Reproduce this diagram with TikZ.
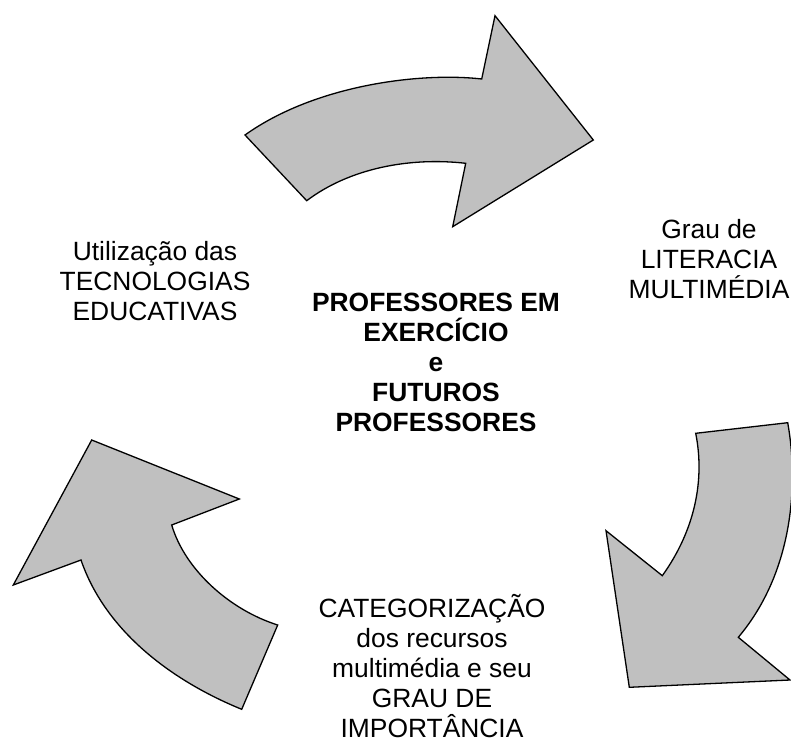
\documentclass[tikz,border=0pt]{standalone}
\usepackage{fontspec}
\setmainfont{Liberation Sans}
\definecolor{arrowgray}{HTML}{C0C0C0}
\begin{document}
\begin{tikzpicture}[x=1pt,y=-1pt,
  arrowshape/.style={fill=arrowgray, draw=black, line width=1.3pt, line join=miter},
  lbl/.style={align=center, inner sep=0pt, anchor=base, font=\fontsize{26.4}{30}\selectfont},
  lblbold/.style={lbl, font=\bfseries\fontsize{26.4}{30}\selectfont}]
\useasboundingbox (0,0) rectangle (791,743);
% top arrow
\draw[arrowshape] (245,135) .. controls (315,85) and (420,72) .. (481.7,79)
  -- (495,15.7) -- (593.3,140) -- (452.7,226.7) -- (465.7,163.3)
  .. controls (410,157) and (350,168) .. (306.7,200.7) -- cycle;
% right arrow
\draw[arrowshape] (695.7,433.3) -- (787.7,422.7)
  .. controls (798,480) and (795,570) .. (738.3,637.3)
  -- (790,680) -- (629.3,687.3) -- (606,530.7) -- (662.3,575.7)
  .. controls (695,530) and (705,480) .. (695.7,433.3) -- cycle;
% left arrow
\draw[arrowshape] (277.7,625) -- (241.7,709.3)
  .. controls (170,680) and (105,630) .. (81,560)
  -- (13.3,585) -- (91.7,440) -- (239.3,499) -- (171.7,525)
  .. controls (185,570) and (230,610) .. (277.7,625) -- cycle;
% labels (anchor = baseline of last line)
\node[lbl] (uso) at (155,320) {Utilização das\\TECNOLOGIAS\\EDUCATIVAS};
\node[lbl] (grau) at (709,298) {Grau de\\LITERACIA\\MULTIMÉDIA};
\node[lblbold] (centro) at (436,431.7) {PROFESSORES EM\\EXERCÍCIO\\e\\FUTUROS\\PROFESSORES};
\node[lbl] (cat) at (432,737.3) {CATEGORIZAÇÃO\\dos recursos\\multimédia e seu\\GRAU DE\\IMPORTÂNCIA};
\end{tikzpicture}
\end{document}
